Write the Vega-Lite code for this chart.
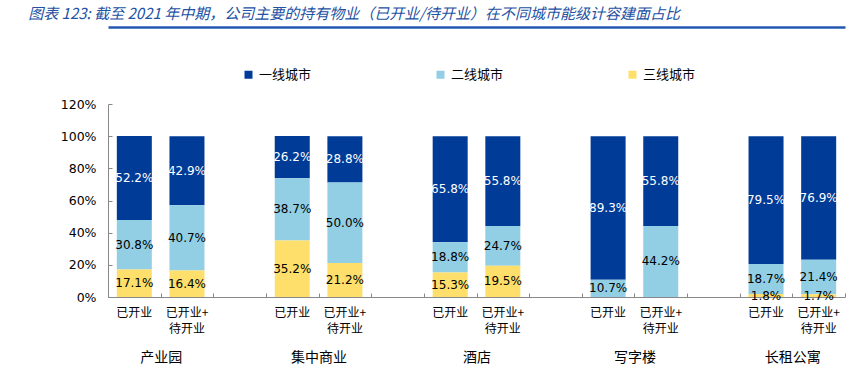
{
  "$schema": "https://vega.github.io/schema/vega-lite/v6.json",
  "autosize": {"type": "none"},
  "width": 737,
  "height": 193,
  "padding": {"left": 108, "top": 104, "right": 6, "bottom": 76},
  "config": {"view": {"stroke": null}, "font": "Noto Sans CJK SC"},
  "title": {
    "text": "图表 123: 截至 2021 年中期，公司主要的持有物业（已开业/待开业）在不同城市能级计容建面占比",
    "anchor": "start",
    "dx": -32,
    "offset": 5,
    "fontSize": 15,
    "fontStyle": "italic",
    "fontWeight": "normal",
    "color": "#2351A3",
    "font": "Noto Sans CJK SC"
  },
  "data": {
    "values": [
      {"g": "产业园", "s": "已开业", "level": "一线城市", "rank": 1, "v": 52.2},
      {"g": "产业园", "s": "已开业", "level": "二线城市", "rank": 2, "v": 30.8},
      {"g": "产业园", "s": "已开业", "level": "三线城市", "rank": 3, "v": 17.1},
      {"g": "产业园", "s": "已开业+待开业", "level": "一线城市", "rank": 1, "v": 42.9},
      {"g": "产业园", "s": "已开业+待开业", "level": "二线城市", "rank": 2, "v": 40.7},
      {"g": "产业园", "s": "已开业+待开业", "level": "三线城市", "rank": 3, "v": 16.4},
      {"g": "集中商业", "s": "已开业", "level": "一线城市", "rank": 1, "v": 26.2},
      {"g": "集中商业", "s": "已开业", "level": "二线城市", "rank": 2, "v": 38.7},
      {"g": "集中商业", "s": "已开业", "level": "三线城市", "rank": 3, "v": 35.2},
      {"g": "集中商业", "s": "已开业+待开业", "level": "一线城市", "rank": 1, "v": 28.8},
      {"g": "集中商业", "s": "已开业+待开业", "level": "二线城市", "rank": 2, "v": 50.0},
      {"g": "集中商业", "s": "已开业+待开业", "level": "三线城市", "rank": 3, "v": 21.2},
      {"g": "酒店", "s": "已开业", "level": "一线城市", "rank": 1, "v": 65.8},
      {"g": "酒店", "s": "已开业", "level": "二线城市", "rank": 2, "v": 18.8},
      {"g": "酒店", "s": "已开业", "level": "三线城市", "rank": 3, "v": 15.3},
      {"g": "酒店", "s": "已开业+待开业", "level": "一线城市", "rank": 1, "v": 55.8},
      {"g": "酒店", "s": "已开业+待开业", "level": "二线城市", "rank": 2, "v": 24.7},
      {"g": "酒店", "s": "已开业+待开业", "level": "三线城市", "rank": 3, "v": 19.5},
      {"g": "写字楼", "s": "已开业", "level": "一线城市", "rank": 1, "v": 89.3},
      {"g": "写字楼", "s": "已开业", "level": "二线城市", "rank": 2, "v": 10.7},
      {"g": "写字楼", "s": "已开业", "level": "三线城市", "rank": 3, "v": 0},
      {"g": "写字楼", "s": "已开业+待开业", "level": "一线城市", "rank": 1, "v": 55.8},
      {"g": "写字楼", "s": "已开业+待开业", "level": "二线城市", "rank": 2, "v": 44.2},
      {"g": "写字楼", "s": "已开业+待开业", "level": "三线城市", "rank": 3, "v": 0},
      {"g": "长租公寓", "s": "已开业", "level": "一线城市", "rank": 1, "v": 79.5},
      {"g": "长租公寓", "s": "已开业", "level": "二线城市", "rank": 2, "v": 18.7},
      {"g": "长租公寓", "s": "已开业", "level": "三线城市", "rank": 3, "v": 1.8},
      {"g": "长租公寓", "s": "已开业+待开业", "level": "一线城市", "rank": 1, "v": 76.9},
      {"g": "长租公寓", "s": "已开业+待开业", "level": "二线城市", "rank": 2, "v": 21.4},
      {"g": "长租公寓", "s": "已开业+待开业", "level": "三线城市", "rank": 3, "v": 1.7}
    ]
  },
  "transform": [
    {"calculate": "datum.g + '|' + datum.s", "as": "slot"},
    {"stack": "v", "groupby": ["slot"], "sort": [{"field": "rank", "order": "descending"}], "as": ["v0", "v1"]},
    {"calculate": "(datum.v0 + datum.v1) / 2", "as": "mid"},
    {"calculate": "format(datum.v, '.1f') + '%'", "as": "label"}
  ],
  "layer": [
    {
      "mark": {"type": "bar", "width": {"band": 0.665}},
      "encoding": {
        "x": {
          "field": "slot", "type": "nominal",
          "scale": {
            "type": "band",
            "domain": ["产业园|已开业", "产业园|已开业+待开业", "_1", "集中商业|已开业", "集中商业|已开业+待开业", "_2", "酒店|已开业", "酒店|已开业+待开业", "_3", "写字楼|已开业", "写字楼|已开业+待开业", "_4", "长租公寓|已开业", "长租公寓|已开业+待开业"],
            "paddingInner": 0, "paddingOuter": 0
          },
          "axis": {
            "title": null, "orient": "bottom", "labelAngle": 0,
            "ticks": false, "tickSize": 0, "domainColor": "#888888", "labelPadding": 10,
            "labelFontSize": 12, "labelColor": "#000000",
            "labelFont": "Noto Sans CJK SC",
            "labelExpr": "indexof(datum.value, '+') >= 0 ? '已开业+' : (indexof(datum.value, '|') >= 0 ? '已开业' : '')"
          }
        },
        "y": {
          "field": "v0", "type": "quantitative",
          "scale": {"domain": [0, 120], "nice": false},
          "axis": {
            "title": null, "values": [0, 20, 40, 60, 80, 100, 120],
            "labelExpr": "datum.value + '%'", "grid": false,
            "ticks": false, "tickSize": 0, "domainColor": "#888888",
            "labelPadding": 12, "labelFontSize": 12.5, "labelColor": "#000000",
            "labelFont": "DejaVu Sans"
          }
        },
        "y2": {"field": "v1"},
        "color": {
          "field": "level", "type": "nominal",
          "scale": {"domain": ["一线城市", "二线城市", "三线城市"], "range": ["#003C97", "#92CFE5", "#FFDF6B"]},
          "legend": {
            "title": null, "orient": "none", "direction": "horizontal",
            "legendX": 134, "legendY": -36,
            "symbolType": "square", "symbolSize": 64, "symbolStrokeWidth": 0,
            "labelFontSize": 13, "labelColor": "#000000", "columnPadding": 122,
            "labelFont": "Noto Sans CJK SC"
          }
        }
      }
    },
    {
      "transform": [{"filter": "datum.v > 0"}],
      "mark": {"type": "text", "fontSize": 12, "font": "DejaVu Sans", "baseline": "middle"},
      "encoding": {
        "x": {
          "field": "slot", "type": "nominal",
          "scale": {
            "type": "band",
            "domain": ["产业园|已开业", "产业园|已开业+待开业", "_1", "集中商业|已开业", "集中商业|已开业+待开业", "_2", "酒店|已开业", "酒店|已开业+待开业", "_3", "写字楼|已开业", "写字楼|已开业+待开业", "_4", "长租公寓|已开业", "长租公寓|已开业+待开业"],
            "paddingInner": 0, "paddingOuter": 0
          },
          "axis": {
            "title": null, "orient": "bottom", "labelAngle": 0,
            "ticks": false, "tickSize": 0, "domain": false, "labelPadding": 26,
            "labelFontSize": 12, "labelColor": "#000000",
            "labelFont": "Noto Sans CJK SC",
            "labelExpr": "indexof(datum.value, '+') >= 0 ? '待开业' : ''"
          }
        },
        "y": {"field": "mid", "type": "quantitative", "scale": {"domain": [0, 120], "nice": false}, "axis": null},
        "text": {"field": "label"},
        "color": {"condition": {"test": "datum.level === '一线城市'", "value": "#FFFFFF"}, "value": "#000000"}
      }
    },
    {
      "mark": {"type": "text", "text": " ", "opacity": 0},
      "encoding": {
        "x": {
          "field": "g", "type": "nominal",
          "scale": {"type": "point", "domain": ["产业园", "集中商业", "酒店", "写字楼", "长租公寓"], "padding": 0.3333},
          "axis": {
            "title": null, "orient": "bottom", "domain": false, "ticks": false, "tickSize": 0,
            "labelAngle": 0, "labelFontSize": 14, "labelPadding": 53, "labelColor": "#000000",
            "labelFont": "Noto Sans CJK SC"
          }
        }
      }
    },
    {
      "mark": {"type": "text", "text": " ", "opacity": 0},
      "encoding": {
        "x": {
          "field": "rank", "type": "quantitative",
          "scale": {"domain": [0, 14], "nice": false, "zero": false},
          "axis": {
            "title": null, "orient": "top", "offset": 77, "domain": true,
            "domainColor": "#2458B0", "domainWidth": 2.5, "domainOpacity": 1,
            "ticks": true, "tickSize": 0, "tickCount": 1, "labels": false, "grid": false, "zindex": 2
          }
        }
      }
    },
    {
      "mark": {"type": "text", "text": " ", "opacity": 0},
      "encoding": {
        "x": {
          "field": "rank", "type": "quantitative",
          "scale": {"domain": [0, 14], "nice": false, "zero": false},
          "axis": {
            "title": null, "orient": "top", "offset": -193, "domain": false, "labels": false,
            "values": [0, 1, 2, 3, 4, 5, 6, 7, 8, 9, 10, 11, 12, 13, 14],
            "ticks": true, "tickSize": 4, "tickColor": "#888888", "grid": false
          }
        },
        "y": {
          "field": "v", "type": "quantitative",
          "scale": {"domain": [0, 120], "nice": false},
          "axis": {
            "title": null, "orient": "right", "offset": -737, "domain": false, "labels": false,
            "values": [0, 20, 40, 60, 80, 100, 120],
            "ticks": true, "tickSize": 4, "tickColor": "#888888", "grid": false
          }
        }
      }
    }
  ],
  "resolve": {"scale": {"x": "independent", "y": "independent"}, "axis": {"x": "independent", "y": "independent"}}
}
